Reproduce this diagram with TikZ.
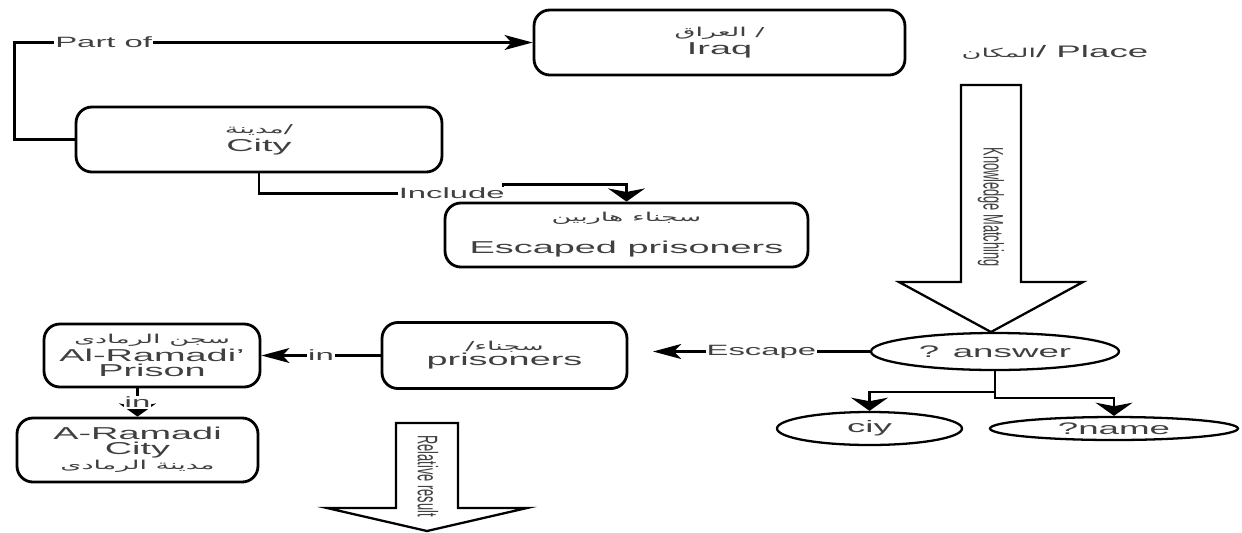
\documentclass[tikz,border=0pt]{standalone}
\usepackage{fontspec}
\usepackage[dvipsnames]{xcolor}
\usepackage{tikz}
\usetikzlibrary{arrows.meta,
shapes.geometric,
calc
}
\TeXXeTstate=1
\setmainfont[FakeStretch=2.2]{Liberation Sans}
\newfontfamily\plainsans{Liberation Sans}
\newfontfamily\arabicfont[Script=Arabic,FakeStretch=2.2]{DejaVu Sans}
\newcommand{\artext}[1]{{\arabicfont\fontsize{7}{8}\selectfont\beginR #1\endR}}
\tikzset{>={Stealth[length=16pt,width=8.5pt,inset=4pt]}}
\tikzset{
  box/.style={draw, rounded corners=9pt, line width=1.6pt, align=center, inner sep=0pt,
    text=black!75, font=\fontsize{9.8}{8.6}\selectfont},
  oval/.style={draw, ellipse, line width=1.3pt, inner sep=0pt,
    text=black!75, font=\fontsize{9.5}{11}\selectfont},
  lbl/.style={fill=white, inner sep=0.5pt, text=black!75, font=\fontsize{8.5}{10}\selectfont},
  link/.style={line width=1.3pt},
  vtip/.style={-{Stealth[length=7.5pt,width=21pt,inset=2pt]}},
  fatarrow/.style={draw, line width=1.3pt, fill=white},
  fatlabel/.style={rotate=-90, inner sep=0pt, text=black!75, font=\plainsans\fontsize{7.3}{9}\selectfont}
}

\begin{document}
\begin{tikzpicture}[x=0.02cm, y=-0.02cm]
  \useasboundingbox (0,0) rectangle (1242,532);

  % boxes
  \node[box, minimum width=7.42cm, minimum height=1.3cm] (iraq) at (719.5,42.5)
    {\artext{/ العراق}\\[2pt] Iraq};
  \node[box, minimum width=7.32cm, minimum height=1.3cm] (city) at (259,139.5)
    {\artext{/مدينة}\\[1.5pt] City};
  \node[box, minimum width=7.26cm, minimum height=1.28cm] (escaped) at (626.5,235)
    {\artext{سجناء هاربين}\\[8.5pt] Escaped prisoners};
  \node[box, minimum width=4.32cm, minimum height=1.26cm] (prison) at (152,355.5)
    {\artext{سجن الرمادى}\\ Al-Ramadi'\\ Prison};
  \node[box, minimum width=4.82cm, minimum height=1.28cm] (ramadi) at (137.5,450)
    {A-Ramadi\\ City\\ \artext{مدينة الرمادى}};
  \node[box, minimum width=4.9cm, minimum height=1.32cm] (prisoners) at (504.5,355.5)
    {\artext{سجناء/}\\ prisoners};

  \node[text=black!75, font=\fontsize{9.5}{11}\selectfont] (place) at (1055,52)
    {\artext{المكان}/ Place};

  % query side
  \node[oval, minimum width=4.96cm, minimum height=0.74cm] (answer) at (995,351.5) {? answer};
  \node[oval, minimum width=3.7cm, minimum height=0.66cm] (ciy) at (869.5,428.5) {ciy};
  \node[oval, minimum width=4.96cm, minimum height=0.46cm] (name) at (1114,428.5) {?name};
  \coordinate (escend) at (653,351.5);

  \draw[fatarrow] (961,85) -- (1021,85) -- (1021,282) -- (1083,282) -- (991,332)
    -- (899,282) -- (961,282) -- cycle;
  \node[fatlabel] (kmtext) at (991,207) {\scalebox{1}[2.2]{Knowledge Matching}};

  \draw[fatarrow] (396,423) -- (458,423) -- (458,508) -- (527,508) -- (427,531)
    -- (327,508) -- (396,508) -- cycle;
  \node[fatlabel] (rrtext) at (428,476) {\scalebox{1}[2.2]{Relative result}};

  % connectors
  \draw[link, ->] (city.west) -- ++(-60,0) |- node[lbl, pos=0.586] {Part of} (iraq.west);
  \draw[link, vtip] (city.south) -- ++(0,20) -- node[lbl, pos=0.79] {Include} ++(244,0)
    -- ++(0,-9) -| (escaped.north);
  \draw[link, ->] (prisoners.west) to node[lbl] {in} (prison.east);
  \draw[link, vtip] (prison.south -| ramadi.north) to node[lbl] {in} (ramadi.north);
  \draw[link, ->] (answer.west) to node[lbl] {Escape} (escend);
  \draw[link, vtip] (answer.south) -- ++(0,21) -| (ciy.north);
  \draw[link, vtip] (answer.south) -- ++(0,27) -| (name.north);
\end{tikzpicture}
\end{document}
